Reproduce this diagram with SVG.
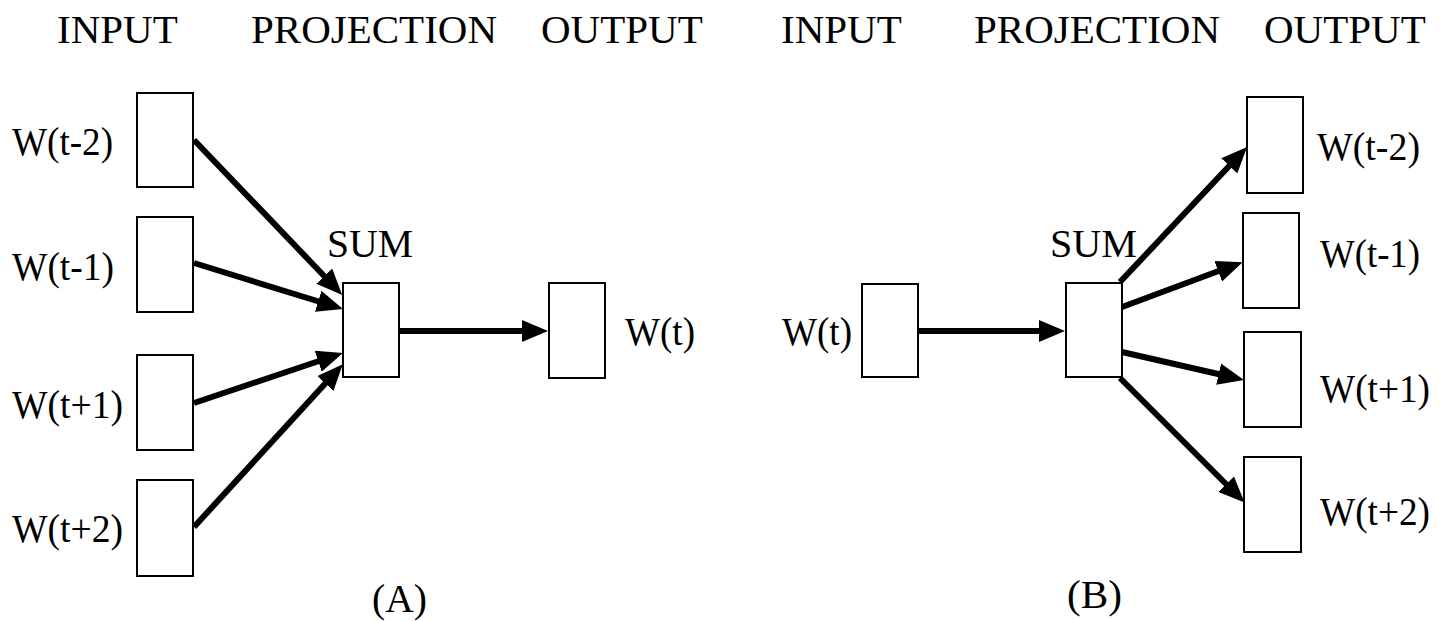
<svg xmlns="http://www.w3.org/2000/svg" width="1450" height="621" viewBox="0 0 1450 621">
<style>
text{font-family:'Liberation Serif','Times New Roman',Times,'DejaVu Serif',serif;font-size:41px;fill:#000}
.box{fill:#fff;stroke:#000;stroke-width:2}
.arr{stroke:#000;stroke-width:6;fill:none;marker-end:url(#ah)}
</style>
<defs>
<marker id="ah" markerUnits="userSpaceOnUse" markerWidth="26" markerHeight="22" viewBox="0 0 26 22" refX="4" refY="11" orient="auto">
<path d="M0,0 L26,11 L0,22 z" fill="#000"/>
</marker>
</defs>
<rect width="1450" height="621" fill="#fff"/>
<g id="headings">
<text x="57" y="43">INPUT</text>
<text x="251" y="43">PROJECTION</text>
<text x="541" y="43">OUTPUT</text>
<text x="781" y="43">INPUT</text>
<text x="974" y="43">PROJECTION</text>
<text x="1264" y="43">OUTPUT</text>
</g>
<g id="connectors">
<line class="arr" x1="194" y1="140" x2="327" y2="279"/>
<line class="arr" x1="194" y1="263" x2="322" y2="302.5"/>
<line class="arr" x1="194" y1="403" x2="322" y2="360"/>
<line class="arr" x1="194" y1="527" x2="328" y2="380.5"/>
<line class="arr" x1="399" y1="331" x2="526" y2="331"/>
<line class="arr" x1="918" y1="331" x2="1043" y2="331"/>
<line class="arr" x1="1120" y1="282" x2="1232" y2="163"/>
<line class="arr" x1="1122" y1="307" x2="1222" y2="269.8"/>
<line class="arr" x1="1122" y1="352" x2="1222.5" y2="375"/>
<line class="arr" x1="1120" y1="378" x2="1229" y2="487"/>
</g>
<g id="a-in-t-2"><rect class="box" x="137" y="93" width="56" height="94"/><text x="12" y="155" textLength="101" lengthAdjust="spacingAndGlyphs">W(t-2)</text></g>
<g id="a-in-t-1"><rect class="box" x="137" y="217" width="56" height="95"/><text x="12" y="280" textLength="102" lengthAdjust="spacingAndGlyphs">W(t-1)</text></g>
<g id="a-in-t+1"><rect class="box" x="137" y="355" width="56" height="95"/><text x="12" y="418" textLength="111" lengthAdjust="spacingAndGlyphs">W(t+1)</text></g>
<g id="a-in-t+2"><rect class="box" x="137" y="480" width="56" height="96"/><text x="12" y="542" textLength="111" lengthAdjust="spacingAndGlyphs">W(t+2)</text></g>
<g id="a-sum"><rect class="box" x="343" y="283" width="56" height="94"/><text x="327" y="257" textLength="86" lengthAdjust="spacingAndGlyphs">SUM</text></g>
<g id="a-out"><rect class="box" x="549" y="283" width="56" height="95"/><text x="625" y="345" textLength="70" lengthAdjust="spacingAndGlyphs">W(t)</text></g>
<g id="a-label"><text x="372" y="612" textLength="55" lengthAdjust="spacingAndGlyphs">(A)</text></g>
<g id="b-in"><rect class="box" x="862" y="284" width="56" height="93"/><text x="782" y="345" textLength="70" lengthAdjust="spacingAndGlyphs">W(t)</text></g>
<g id="b-sum"><rect class="box" x="1066" y="283" width="56" height="94"/><text x="1050" y="257" textLength="87" lengthAdjust="spacingAndGlyphs">SUM</text></g>
<g id="b-out-t-2"><rect class="box" x="1247" y="97" width="56" height="96"/><text x="1317" y="160" textLength="103" lengthAdjust="spacingAndGlyphs">W(t-2)</text></g>
<g id="b-out-t-1"><rect class="box" x="1243" y="213" width="56" height="95"/><text x="1320" y="267" textLength="100" lengthAdjust="spacingAndGlyphs">W(t-1)</text></g>
<g id="b-out-t+1"><rect class="box" x="1244" y="332" width="57" height="95"/><text x="1320" y="402" textLength="110" lengthAdjust="spacingAndGlyphs">W(t+1)</text></g>
<g id="b-out-t+2"><rect class="box" x="1244" y="457" width="57" height="95"/><text x="1320" y="525" textLength="110" lengthAdjust="spacingAndGlyphs">W(t+2)</text></g>
<g id="b-label"><text x="1067" y="608" textLength="55" lengthAdjust="spacingAndGlyphs">(B)</text></g>
</svg>
